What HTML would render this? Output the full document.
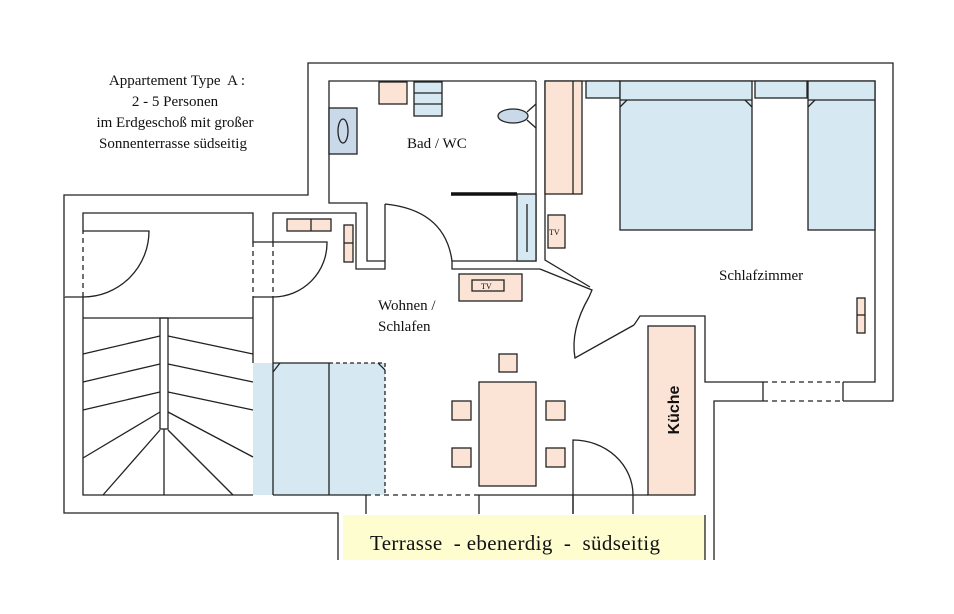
<!DOCTYPE html>
<html><head><style>body{margin:0;background:#fff}svg{display:block}text{white-space:pre}</style></head><body>
<svg width="954" height="614" viewBox="0 0 954 614" xmlns="http://www.w3.org/2000/svg" font-family="'Liberation Serif',serif">
<rect width="954" height="614" fill="#fff"/>
<g fill="none" stroke="#222" stroke-width="1.3">
<rect x="343" y="515" width="362" height="45" fill="#fdfdd0" stroke="none"/>
<rect x="253" y="363" width="132" height="132" fill="#d6e9f3" stroke="none"/>
<polyline points="338,560 338,513 64,513 64,195 308,195 308,63 893,63 893,401 843,401"/>
<polyline points="763,401 714,401 714,560"/>
<line x1="705" y1="515" x2="705" y2="560"/>
<line x1="763" y1="382" x2="763" y2="401"/><line x1="843" y1="382" x2="843" y2="401"/>
<line x1="763" y1="382" x2="843" y2="382" stroke-dasharray="5,4"/>
<line x1="763" y1="401" x2="843" y2="401" stroke-dasharray="5,4"/>
<polyline points="763,382 705,382 705,316 640,316 634,325"/>
<polyline points="843,382 875,382 875,81 545,81 545,260 590,287"/>
<polyline points="540,269 592,290 589,297"/>
<path d="M589,297 Q570,330 575,358 L634,325"/>
<polyline points="536,81 536,261 452,261 452,269 540,269"/>
<polyline points="536,81 329,81 329,203 367,203 367,261 385,261 385,204"/>
<path d="M385,204 Q445,210 452,261"/>
<line x1="451" y1="194" x2="517" y2="194" stroke-width="3.5" stroke="#111"/>
<polyline points="273,242 273,213 356,213 356,269 385,269 385,261"/>
<polyline points="64,297 83,297"/>
<line x1="64" y1="229" x2="64" y2="297" stroke-dasharray="5,4" stroke="#fff" stroke-width="2"/>
<line x1="64" y1="229" x2="64" y2="297" stroke-dasharray="5,4"/>
<line x1="83" y1="229" x2="83" y2="297" stroke-dasharray="5,4"/>
<polyline points="83,229 83,213 253,213 253,242 273,242"/>
<line x1="253" y1="242" x2="253" y2="297" stroke-dasharray="5,4"/>
<line x1="273" y1="242" x2="273" y2="297" stroke-dasharray="5,4"/>
<polyline points="83,297 83,495 253,495"/>
<polyline points="253,297 273,297"/>
<line x1="253" y1="297" x2="253" y2="363"/>
<polyline points="273,297 273,495"/>
<path d="M83,231 L149,231 A66,66 0 0 1 83,297"/>
<path d="M273,242 L327,242 A54,54 0 0 1 273,297"/>
<line x1="83" y1="318" x2="253" y2="318"/>
<rect x="160" y="318" width="8" height="111"/>
<line x1="83" y1="354" x2="160" y2="336"/><line x1="83" y1="382" x2="160" y2="364"/><line x1="83" y1="410" x2="160" y2="392"/>
<line x1="83" y1="458" x2="160" y2="412"/><line x1="103" y1="495" x2="160" y2="430"/>
<line x1="168" y1="336" x2="253" y2="354"/><line x1="168" y1="364" x2="253" y2="382"/><line x1="168" y1="392" x2="253" y2="410"/>
<line x1="168" y1="412" x2="253" y2="457"/><line x1="168" y1="430" x2="233" y2="495"/>
<line x1="164" y1="429" x2="164" y2="495"/>
<line x1="329" y1="363" x2="329" y2="495"/>
<line x1="273" y1="363" x2="329" y2="363"/>
<line x1="329" y1="363" x2="385" y2="363" stroke-dasharray="4,3"/>
<line x1="385" y1="363" x2="385" y2="495" stroke-dasharray="4,3"/>
<line x1="273" y1="372" x2="280" y2="363"/><line x1="378" y1="363" x2="385" y2="370"/>
<line x1="273" y1="495" x2="366" y2="495"/>
<line x1="366" y1="495" x2="479" y2="495" stroke-dasharray="5,4"/>
<line x1="479" y1="495" x2="648" y2="495"/>
<line x1="366" y1="495" x2="366" y2="514"/><line x1="479" y1="495" x2="479" y2="514"/><line x1="573" y1="495" x2="573" y2="514"/>
<rect x="479" y="382" width="57" height="104" fill="#fbe4d5"/>
<rect x="499" y="354" width="18" height="18" fill="#fbe4d5"/>
<rect x="452" y="401" width="19" height="19" fill="#fbe4d5"/><rect x="546" y="401" width="19" height="19" fill="#fbe4d5"/>
<rect x="452" y="448" width="19" height="19" fill="#fbe4d5"/><rect x="546" y="448" width="19" height="19" fill="#fbe4d5"/>
<path d="M573,514 L573,440 A60,55 0 0 1 633,495 L633,514"/>
<rect x="648" y="326" width="47" height="169" fill="#fbe4d5"/>
<rect x="545" y="81" width="37" height="113" fill="#fbe4d5"/><line x1="573" y1="81" x2="573" y2="194"/>
<rect x="548" y="215" width="17" height="33" fill="#fbe4d5"/>
<rect x="586" y="81" width="34" height="17" fill="#d6e9f3"/>
<rect x="620" y="81" width="132" height="149" fill="#d6e9f3"/><line x1="620" y1="100" x2="752" y2="100"/>
<rect x="755" y="81" width="52" height="17" fill="#d6e9f3"/>
<rect x="808" y="81" width="67" height="149" fill="#d6e9f3"/><line x1="808" y1="100" x2="875" y2="100"/>
<line x1="620" y1="107" x2="627" y2="100"/><line x1="745" y1="100" x2="752" y2="107"/><line x1="808" y1="107" x2="815" y2="100"/>
<rect x="857" y="298" width="8" height="35" fill="#fbe4d5"/><line x1="857" y1="315" x2="865" y2="315"/>
<rect x="379" y="82" width="28" height="22" fill="#fbe4d5"/>
<rect x="414" y="82" width="28" height="34" fill="#d6e9f3"/><line x1="414" y1="93" x2="442" y2="93"/><line x1="414" y1="104" x2="442" y2="104"/>
<rect x="329" y="108" width="28" height="46" fill="#c9d9ea"/><ellipse cx="343" cy="131" rx="5" ry="12"/>
<ellipse cx="513" cy="116" rx="15" ry="7" fill="#c9d9ea"/><polyline points="527,112 536,104"/><polyline points="527,120 536,128"/>
<rect x="517" y="194" width="19" height="67" fill="#d6e9f3"/><line x1="527" y1="204" x2="527" y2="252"/>
<rect x="287" y="219" width="44" height="12" fill="#fbe4d5"/><line x1="311" y1="219" x2="311" y2="231"/>
<rect x="344" y="225" width="9" height="37" fill="#fbe4d5"/><line x1="344" y1="243" x2="353" y2="243"/>
<rect x="459" y="274" width="63" height="27" fill="#fbe4d5"/><rect x="472" y="280" width="32" height="11"/>
</g>
<g fill="#111">
<text x="177" y="85" font-size="15" text-anchor="middle">Appartement Type  A :</text>
<text x="175" y="106" font-size="15" text-anchor="middle">2 - 5 Personen</text>
<text x="175" y="127" font-size="15" text-anchor="middle">im Erdgeschoß mit großer</text>
<text x="173" y="148" font-size="15" text-anchor="middle">Sonnenterrasse südseitig</text>
<text x="407" y="148" font-size="15">Bad / WC</text>
<text x="378" y="310" font-size="15">Wohnen /</text>
<text x="378" y="331" font-size="15">Schlafen</text>
<text x="719" y="280" font-size="15">Schlafzimmer</text>
<text x="370" y="550" font-size="21" textLength="290" lengthAdjust="spacing">Terrasse  - ebenerdig  -  südseitig</text>
<text x="481" y="289" font-size="8">TV</text>
<text x="549" y="235" font-size="8">TV</text>
<text transform="translate(679,410) rotate(-90)" font-family="'Liberation Sans',sans-serif" font-weight="bold" font-size="16" text-anchor="middle">Küche</text>
</g>
</svg>
</body></html>
